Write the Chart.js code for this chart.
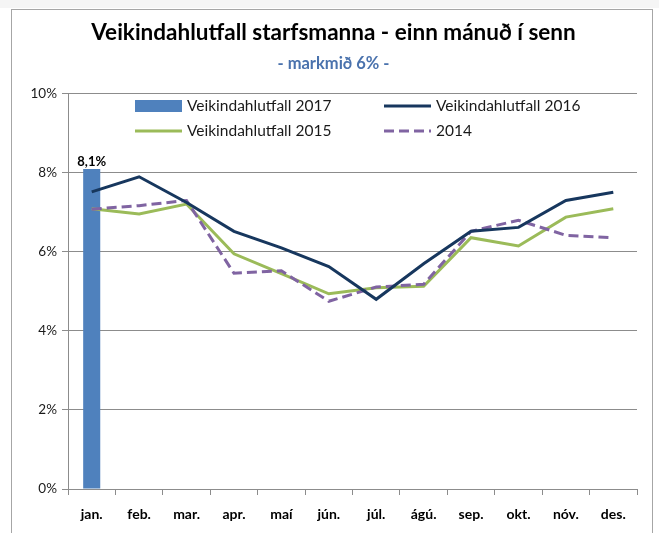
<!DOCTYPE html>
<html>
<head>
<meta charset="utf-8">
<script src="https://cdn.jsdelivr.net/npm/chart.js@4"></script>
<style>
  html, body { margin: 0; padding: 0; background: #fff; }
  #wrap { width: 659px; height: 533px; position: relative; }
</style>
</head>
<body>
<div id="wrap"><canvas id="chart" width="659" height="533"></canvas></div>
<script>
// Chart data
const months = ['jan.', 'feb.', 'mar.', 'apr.', 'maí', 'jún.', 'júl.', 'ágú.', 'sep.', 'okt.', 'nóv.', 'des.'];
const values2017 = [8.1, null, null, null, null, null, null, null, null, null, null, null];
const values2016 = [7.52, 7.9, 7.25, 6.52, 6.1, 5.63, 4.8, 5.7, 6.52, 6.62, 7.3, 7.51];
const values2015 = [7.09, 6.96, 7.21, 5.95, 5.45, 4.94, 5.09, 5.13, 6.36, 6.15, 6.88, 7.09];
const values2014 = [7.08, 7.17, 7.3, 5.46, 5.52, 4.75, 5.11, 5.18, 6.52, 6.8, 6.42, 6.36];
const yTicks = [0, 2, 4, 6, 8, 10];

const fontFamily = 'Lato, "Open Sans", sans-serif';

// Frame around the whole chart
const framePlugin = {
    id: 'frame',
    beforeDraw(chart) {
        const ctx = chart.ctx;
        ctx.save();
        ctx.fillStyle = '#ffffff';
        ctx.fillRect(0, 0, chart.width, chart.height);
        ctx.fillStyle = '#f5f5f5';
        ctx.fillRect(0, 0, chart.width, 8);
        ctx.strokeStyle = '#a6a6a6';
        ctx.lineWidth = 1;
        ctx.strokeRect(11.5, 9.5, 641, 540);
        ctx.restore();
    }
};

// Legend drawn inside the plot area, two columns
const innerLegendPlugin = {
    id: 'innerLegend',
    afterDraw(chart) {
        const ctx = chart.ctx;
        const cols = [135, 384];
        const rows = [106, 131];
        ctx.save();
        ctx.font = '15.5px ' + fontFamily;
        ctx.textBaseline = 'middle';
        chart.data.datasets.forEach((ds, i) => {
            const x = cols[i % 2];
            const y = rows[Math.floor(i / 2)];
            if (ds.type === 'bar') {
                ctx.fillStyle = ds.backgroundColor;
                ctx.fillRect(x, y - 6, 47, 12);
            } else {
                ctx.strokeStyle = ds.borderColor;
                ctx.lineWidth = ds.borderWidth;
                ctx.setLineDash(ds.borderDash || []);
                ctx.beginPath();
                ctx.moveTo(x, y);
                ctx.lineTo(x + 47, y);
                ctx.stroke();
                ctx.setLineDash([]);
            }
            ctx.fillStyle = '#1a1a1a';
            ctx.fillText(ds.label, x + 52, y);
        });
        ctx.restore();
    }
};

// Value label on the 2017 bar
const barLabelPlugin = {
    id: 'barLabel',
    afterDatasetsDraw(chart) {
        const ctx = chart.ctx;
        const meta = chart.getDatasetMeta(0);
        ctx.save();
        ctx.font = 'bold 13px ' + fontFamily;
        ctx.fillStyle = '#000';
        ctx.textAlign = 'center';
        ctx.textBaseline = 'bottom';
        meta.data.forEach((bar, i) => {
            const v = chart.data.datasets[0].data[i];
            if (v == null) return;
            ctx.fillText(v.toFixed(1).replace('.', ',') + '%', bar.x, bar.y - 1);
        });
        ctx.restore();
    }
};

const chart = new Chart(document.getElementById('chart'), {
    type: 'bar',
    data: {
        labels: months,
        datasets: [
            {
                type: 'bar',
                label: 'Veikindahlutfall 2017',
                data: values2017,
                backgroundColor: '#4F81BD',
                barPercentage: 0.36,
                categoryPercentage: 1,
                order: 10
            },
            {
                type: 'line',
                label: 'Veikindahlutfall 2016',
                data: values2016,
                borderColor: '#17375E',
                borderWidth: 3,
                pointRadius: 0,
                tension: 0,
                order: 1
            },
            {
                type: 'line',
                label: 'Veikindahlutfall 2015',
                data: values2015,
                borderColor: '#9BBB59',
                borderWidth: 3,
                pointRadius: 0,
                tension: 0,
                order: 3
            },
            {
                type: 'line',
                label: '2014',
                data: values2014,
                borderColor: '#8064A2',
                borderWidth: 3,
                borderDash: [10, 5],
                pointRadius: 0,
                tension: 0,
                order: 2
            }
        ]
    },
    options: {
        responsive: false,
        animation: false,
        layout: {
            padding: { top: 0, right: 22, bottom: 0, left: 30 }
        },
        plugins: {
            legend: { display: false },
            tooltip: { enabled: false },
            title: {
                display: true,
                text: 'Veikindahlutfall starfsmanna - einn mánuð í senn',
                color: '#000',
                font: { family: fontFamily, size: 22.5, weight: 'bold' },
                padding: { top: 19, bottom: 0 }
            },
            subtitle: {
                display: true,
                text: '- markmið 6% -',
                color: '#4A72AD',
                font: { family: fontFamily, size: 16.5, weight: 'bold' },
                padding: { top: 8, bottom: 20 }
            }
        },
        scales: {
            x: {
                grid: {
                    display: true,
                    offset: true,
                    drawOnChartArea: false,
                    drawTicks: true,
                    tickLength: 6,
                    color: '#8c8c8c'
                },
                border: { color: '#8c8c8c' },
                ticks: {
                    color: '#000',
                    padding: 11,
                    font: { family: fontFamily, size: 14, weight: 'bold' }
                },
                afterFit(scale) { scale.height = 44; }
            },
            y: {
                min: 0,
                max: 10,
                afterBuildTicks(scale) {
                    scale.ticks = yTicks.map(v => ({ value: v }));
                },
                grid: {
                    color: '#8c8c8c',
                    tickLength: 6
                },
                border: { color: '#8c8c8c' },
                ticks: {
                    color: '#1a1a1a',
                    padding: 5,
                    font: { family: fontFamily, size: 13.5 },
                    callback: v => v + '%'
                },
                afterFit(scale) { scale.width = 38; }
            }
        }
    },
    plugins: [framePlugin, innerLegendPlugin, barLabelPlugin]
});
</script>
</body>
</html>
